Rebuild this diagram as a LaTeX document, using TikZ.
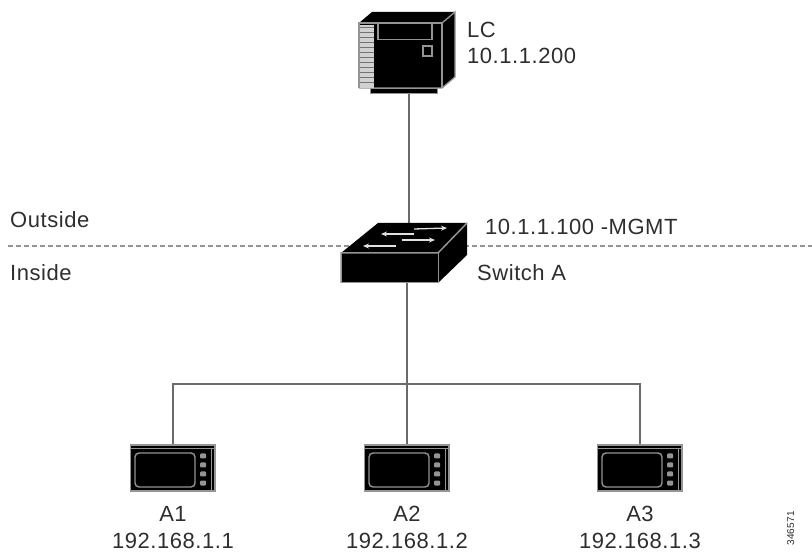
\documentclass[tikz,border=0pt]{standalone}
\usepackage{fontspec}
\setmainfont[LetterSpace=2.5]{Liberation Sans}
\usetikzlibrary{positioning}
\usetikzlibrary{arrows.meta}
\definecolor{linegray}{gray}{0.42}
\definecolor{edgegray}{gray}{0.58}
\definecolor{labelgray}{gray}{0.18}
\tikzset{
	link/.style={draw=linegray, line width=1.3pt},
	border/.style={draw=edgegray, line width=1.4pt, dash pattern=on 4.5pt off 3.5pt},
	label/.style={text=labelgray, inner sep=0pt, font=\fontsize{22}{24}\selectfont},
	spot/.style={inner sep=0pt, minimum width=#1},
	pfeil/.style={draw=white!88!black, line width=1.3pt, -{Stealth[length=6pt,width=5pt]}},
	screenbox/.pic={
		\fill[black, draw=edgegray, line width=1.2pt] (-42.5,-23) rectangle (42,23);
		\draw[edgegray, line width=1.2pt] (-42,-19.5) -- (41,-19.5);
		\draw[edgegray, line width=0.8pt] (38.5,-19.5) -- (38.5,23);
		\draw[edgegray, line width=1.4pt, rounded corners=4pt] (-38,-15) rectangle (22,19);
		\foreach \y in {-12,-3,6,15}
			\fill[edgegray, rounded corners=1pt] (27,\y-2.5) rectangle (33,\y+2.5);
	}
}
\begin{document}
\begin{tikzpicture}[x=1pt, y=-1pt]
	\useasboundingbox (0,0) rectangle (812,553);
	\node[spot=96pt, minimum height=82pt] (lc) at (409,53) {};
	\node[spot=126pt, minimum height=60pt] (switcha) at (407,253) {};
	\node[spot=84pt, minimum height=46pt] (a1) at (173,468) {};
	\node[spot=84pt, minimum height=46pt] (a2) at (407,468) {};
	\node[spot=84pt, minimum height=46pt] (a3) at (640,468) {};
	\coordinate (bus) at (407,384);
	\coordinate (left) at (8,246);
	\coordinate (right) at (812,246);
	% lines
	\draw[border] (left) -- (right);
	\draw[link] (lc) -- (lc |- switcha.north);
	\draw[link] (switcha) -- (bus);
	\draw[link] (a1) |- (bus) -| (a3);
	\draw[link] (a2) -- (bus);
	% server
	\fill[black] (359,23) -- (372,12) -- (455,12) -- (455,77) -- (442,88) -- (359,88) -- cycle;
	\draw[edgegray, line width=1.5pt] (359,88) -- (359,23) -- (442,23) -- (442,88);
	\draw[edgegray, line width=1.3pt] (442,23) -- (455,12) -- (455,77) -- (442,88) -- (359,88);
	\fill[black, draw=edgegray, line width=1pt] (370,89) rectangle (437,94);
	\fill[white!82!black] (360,25) rectangle (374,88);
	\foreach \y in {28,33,...,85}
		\draw[black!55, line width=1pt] (360,\y) -- (374,\y);
	\draw[edgegray, line width=1.3pt] (378,24) -- (378,39.5) -- (432,39.5) -- (432,24);
	\draw[edgegray, line width=1.3pt] (423,46) rectangle (432,56);
	% switch
	\fill[black] (341,253) -- (378,223) -- (467,223) -- (467,255) -- (438,283) -- (341,283) -- cycle;
	\draw[edgegray, line width=1.5pt] (341,283) -- (341,253) -- (438,253) -- (467,223);
	\draw[edgegray, line width=1pt] (438,253) -- (438,283) -- (341,283);
	\draw[pfeil] (414,229) -- (447,228);
	\draw[pfeil] (414,234) -- (381,234);
	\draw[pfeil] (402,240) -- (435,240);
	\draw[pfeil] (396,246) -- (363,246);
	% hosts
	\foreach \n in {a1,a2,a3}
		\pic at (\n) {screenbox};
	% labels
	\node[label, anchor=base west] (lcname) at (467,38) {LC};
	\node[label, anchor=base west] (lcip) at (467,64) {10.1.1.200};
	\node[label, anchor=base west] (outside) at (10,228) {Outside};
	\node[label, anchor=base west] (inside) at (10,281) {Inside};
	\node[label, anchor=base west] (mgmt) at (485,235) {10.1.1.100 -MGMT};
	\node[label, anchor=base west] (swname) at (477,281) {Switch A};
	\foreach \n/\t/\i in {a1/A1/192.168.1.1,a2/A2/192.168.1.2,a3/A3/192.168.1.3} {
		\node[label, anchor=base] (\n name) at (\n |- 0,521) {\t};
		\node[label, anchor=base] (\n ip) at (\n |- 0,548) {\i};
	}
	\node[label, font=\fontsize{10}{12}\selectfont, rotate=90, anchor=base west] (figid) at (794,546) {346571};
\end{tikzpicture}
\end{document}
